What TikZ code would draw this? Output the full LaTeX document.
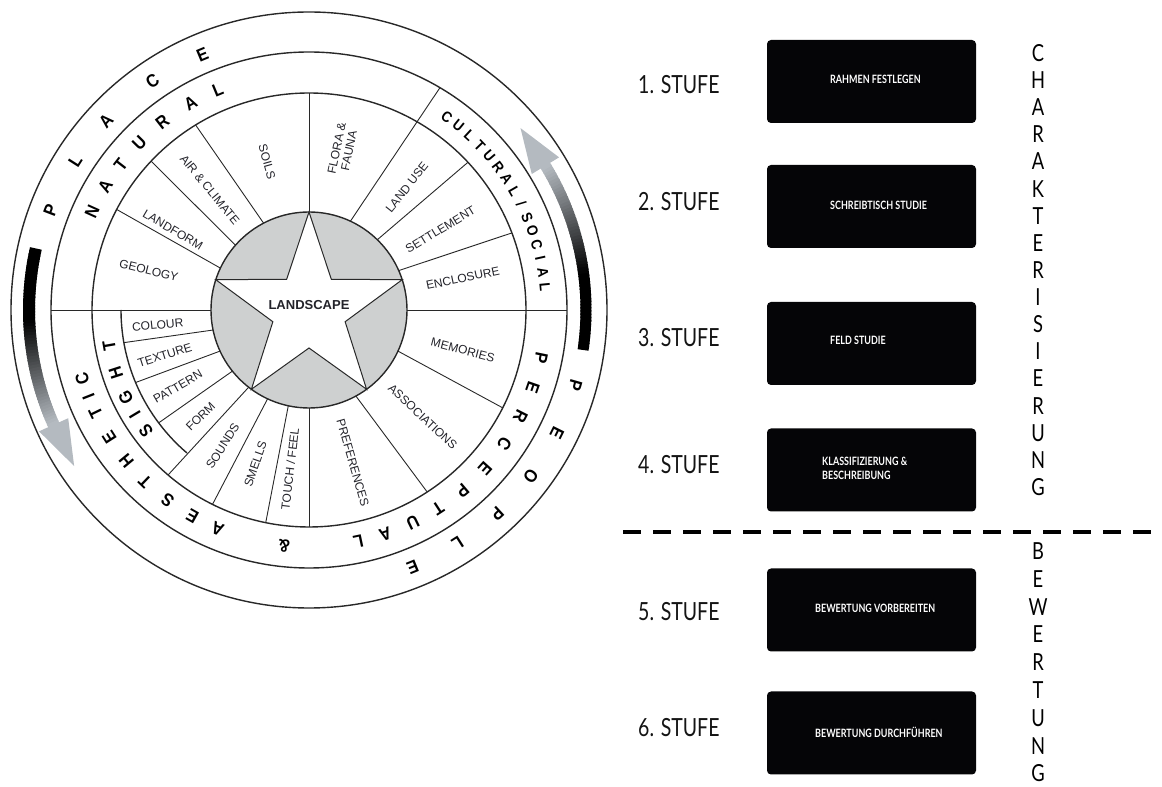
\documentclass[tikz,border=0pt]{standalone}
\usepackage{fontspec}
\setmainfont{Liberation Sans}
\newfontfamily\ringfont[FakeStretch=0.9]{Liberation Sans}
\newfontfamily\stfont[FakeStretch=0.78]{Lato}
\newcommand\slashchar{/}
\definecolor{wheelgray}{RGB}{206,208,208}
\definecolor{linegray}{RGB}{40,40,40}
\definecolor{arrowgray}{RGB}{180,186,192}
\definecolor{txt}{RGB}{35,35,42}
\definecolor{boxblack}{RGB}{5,5,7}
\tikzset{
  ringline/.style={draw=linegray, line width=1.4pt},
  divline/.style={draw=linegray, line width=0.9pt},
  seglabel/.style={font=\fontsize{12}{12.5}\selectfont, text=txt, inner sep=0pt, align=center},
  ringletter/.style={font=\ringfont\bfseries\fontsize{18}{18}\selectfont, inner sep=0pt},
  smallring/.style={font=\ringfont\bfseries\fontsize{15}{15}\selectfont, inner sep=0pt},
  stepbox/.style={fill=boxblack, rounded corners=4pt, minimum width=209pt, minimum height=83pt, inner sep=0pt},
  stufe/.style={font=\stfont\fontsize{25}{25}\selectfont, text=black!92, anchor=west, inner sep=0pt},
  boxtext/.style={font=\stfont\bfseries\fontsize{11.5}{13.5}\selectfont, text=white, anchor=west, inner sep=0pt, align=left},
  vletter/.style={font=\stfont\fontsize{23.5}{23.5}\selectfont, inner sep=0pt},
}
\begin{document}
\begin{tikzpicture}[x=1pt,y=1pt]
\useasboundingbox (0,0) rectangle (1162,787);
\coordinate (C) at (309,477);

% arrows in the outer ring
\foreach \k in {0,...,59}{
  \pgfmathsetmacro\aa{-8.3+\k*39.7/60}
  \pgfmathsetmacro\bb{\aa+39.7/60+0.3}
  \pgfmathtruncatemacro\p{max(0,min(100,100*(1-(\k/59-0.4)/0.6)))}
  \draw[line width=11pt, draw=black!\p!arrowgray] ([shift={(C)}]\aa:277) arc[start angle=\aa, end angle=\bb, radius=277];
}
\fill[arrowgray] ([shift={(C)}]31.4:261) -- ([shift={(C)}]31.4:293) -- ([shift={(C)}]40.7:279) -- cycle;
\foreach \k in {0,...,59}{
  \pgfmathsetmacro\aa{167.3+\k*36.9/60}
  \pgfmathsetmacro\bb{\aa+36.9/60+0.3}
  \pgfmathtruncatemacro\p{max(0,min(100,100*(1-(\k/59-0.4)/0.6)))}
  \draw[line width=12pt, draw=black!\p!arrowgray] ([shift={(C)}]\aa:280) arc[start angle=\aa, end angle=\bb, radius=280];
}
\fill[arrowgray] ([shift={(C)}]204.2:264) -- ([shift={(C)}]204.2:296) -- ([shift={(C)}]213.6:282) -- cycle;

% rings
\draw[ringline] (C) circle[radius=298];
\draw[ringline] (C) circle[radius=258];
\draw[ringline] (C) circle[radius=217];
\draw[ringline] ([shift={(C)}]180:188) arc[start angle=180, end angle=229.5, radius=188];

% dividers
\foreach \a/\b/\r in {154.7/152.4/217, 138.6/136.7/217, 117.6/121.5/217, 90/90/217, 65/59.5/258,
  45.8/42.9/217, 23.7/20.8/217, 0/0/258, 335.2/333.2/217, 298.6/303/217, 270/270/217,
  257.8/258.5/217, 245/243.6/217, 232/229.5/217, 218.6/216.9/188, 204.8/202.7/188,
  191.8/190/188, 180/180/258}
  \draw[divline] ([shift={(C)}]\a:98) -- ([shift={(C)}]\b:\r);

% centre
\fill[wheelgray] (C) circle[radius=98];
\filldraw[fill=white, draw=linegray, line width=1pt]
  ([shift={(C)}]90:98) -- ([shift={(C)}]126:38) -- ([shift={(C)}]162:98) -- ([shift={(C)}]198:38)
  -- ([shift={(C)}]234:98) -- ([shift={(C)}]270:38) -- ([shift={(C)}]306:98) -- ([shift={(C)}]342:38)
  -- ([shift={(C)}]18:98) -- ([shift={(C)}]54:38) -- cycle;
\draw[ringline] (C) circle[radius=98];
\node[font=\bfseries\fontsize{13}{13}\selectfont, text=txt, inner sep=0pt] (landscape) at (309,482) {LANDSCAPE};

% segment labels
\node[seglabel, rotate=-13.9] (geology) at ([shift={(C)}]166.1:165) {GEOLOGY};
\node[seglabel, rotate=-30.5] (landform) at ([shift={(C)}]149.5:158) {LANDFORM};
\node[seglabel, rotate=-50.5] (air) at ([shift={(C)}]129.5:156) {AIR \& CLIMATE};
\node[seglabel, rotate=-74.2] (soils) at ([shift={(C)}]105.8:154) {SOILS};
\node[seglabel, rotate=78.1] (flora) at ([shift={(C)}]78.1:164) {FLORA \&\\FAUNA};
\node[seglabel, rotate=51.4] (landuse) at ([shift={(C)}]51.4:157) {LAND USE};
\node[seglabel, rotate=31.4] (settlement) at ([shift={(C)}]31.4:154) {SETTLEMENT};
\node[seglabel, rotate=11.7] (enclosure) at ([shift={(C)}]11.7:157) {ENCLOSURE};
\node[seglabel, rotate=-14.6] (memories) at ([shift={(C)}]-14.6:159) {MEMORIES};
\node[seglabel, rotate=-43.2] (associations) at ([shift={(C)}]-43.2:156) {ASSOCIATIONS};
\node[seglabel, rotate=-74] (preferences) at ([shift={(C)}]-74:159) {PREFERENCES};
\node[seglabel, rotate=83.2] (touch) at ([shift={(C)}]263.2:160) {TOUCH / FEEL};
\node[seglabel, rotate=70.8] (smells) at ([shift={(C)}]250.8:163) {SMELLS};
\node[seglabel, rotate=57.6] (sounds) at ([shift={(C)}]237.6:161) {SOUNDS};
\node[seglabel, rotate=44.5] (form) at ([shift={(C)}]224.5:152) {FORM};
\node[seglabel, rotate=30.3] (pattern) at ([shift={(C)}]210.3:152) {PATTERN};
\node[seglabel, rotate=17.4] (texture) at ([shift={(C)}]197.4:151) {TEXTURE};
\node[seglabel, rotate=5.6] (colour) at ([shift={(C)}]185.6:152) {COLOUR};

% ring lettering
\foreach \l/\a [count=\i] in {P/158.9, L/147.5, A/137.1, C/124.4, E/112.6}
  \node[ringletter, rotate=\a-90] (place\i) at ([shift={(C)}]\a:277) {\l};
\foreach \l/\a [count=\i] in {P/-15.9, E/-26.4, O/-36.8, P/-47.2, L/-57.6, E/-68}
  \node[ringletter, rotate=\a-90] (people\i) at ([shift={(C)}]\a:277) {\l};
\foreach \l/\a [count=\i] in {N/155.7, A/148.8, T/142.3, U/135.5, R/128, A/119.8, L/112.5}
  \node[ringletter, rotate=\a-90] (natural\i) at ([shift={(C)}]\a:238) {\l};
\foreach \l/\a [count=\i] in {C/54.4, U/50.9, L/47.4, T/43.9, U/40.5, R/37.0, A/33.5, L/30.0,
  \slashchar/26.5, S/23.0, O/19.5, C/16.1, I/12.6, A/9.1, L/5.6}
  \node[smallring, rotate=\a-90] (cultural\i) at ([shift={(C)}]\a:237) {\l};
\foreach \l/\a [count=\i] in {P/-11.6, E/-19.2, R/-26.8, C/-34.4, E/-42, P/-49.6, T/-57, U/-64,
  A/-71.2, L/-78, \&/-96, A/-112.7, E/-119.5, S/-126.6, T/-133.8, H/-140.4, E/-147.5, T/-154.2,
  I/-158.5, C/-163.1}
  \node[ringletter, rotate=\a-90] (percept\i) at ([shift={(C)}]\a:237) {\l};
\foreach \l/\a [count=\i] in {S/216.5, I/211, G/205.6, H/198, T/190}
  \node[ringletter, rotate=\a-90] (sight\i) at ([shift={(C)}]\a:203) {\l};

% right side
\node[stepbox] (box1) at (871.5,705.5) {};
\node[stepbox] (box2) at (871.5,580.5) {};
\node[stepbox] (box3) at (871.5,443.5) {};
\node[stepbox] (box4) at (871.5,317) {};
\node[stepbox] (box5) at (871.5,177) {};
\node[stepbox] (box6) at (871.5,54) {};
\node[boxtext] (t1) at (830,708) {RAHMEN FESTLEGEN};
\node[boxtext] (t2) at (830,582) {SCHREIBTISCH STUDIE};
\node[boxtext] (t3) at (830,447) {FELD STUDIE};
\node[boxtext] (t4) at (822,318.5) {KLASSIFIZIERUNG \&\\BESCHREIBUNG};
\node[boxtext] (t5) at (815,179) {BEWERTUNG VORBEREITEN};
\node[boxtext] (t6) at (815,55) {BEWERTUNG DURCHFÜHREN};

\node[stufe] (s1) at (638,702) {1. STUFE};
\node[stufe] (s2) at (638,585) {2. STUFE};
\node[stufe] (s3) at (638,449) {3. STUFE};
\node[stufe] (s4) at (638,322) {4. STUFE};
\node[stufe] (s5) at (638,175) {5. STUFE};
\node[stufe] (s6) at (638,59) {6. STUFE};

\foreach \l [count=\i from 0] in {C,H,A,R,A,K,T,E,R,I,S,I,E,R,U,N,G}
  \node[vletter] (ch\i) at (1038,{734-\i*27.125}) {\l};
\foreach \l [count=\i from 0] in {B,E,W,E,R,T,U,N,G}
  \node[vletter] (bw\i) at (1038,{236-\i*27.8}) {\l};

\coordinate (d1) at (623,255);
\coordinate (d2) at (1162,255);
\draw[line width=4pt, dash pattern=on 18pt off 12pt] (d1) -- (d2);
\end{tikzpicture}
\end{document}
